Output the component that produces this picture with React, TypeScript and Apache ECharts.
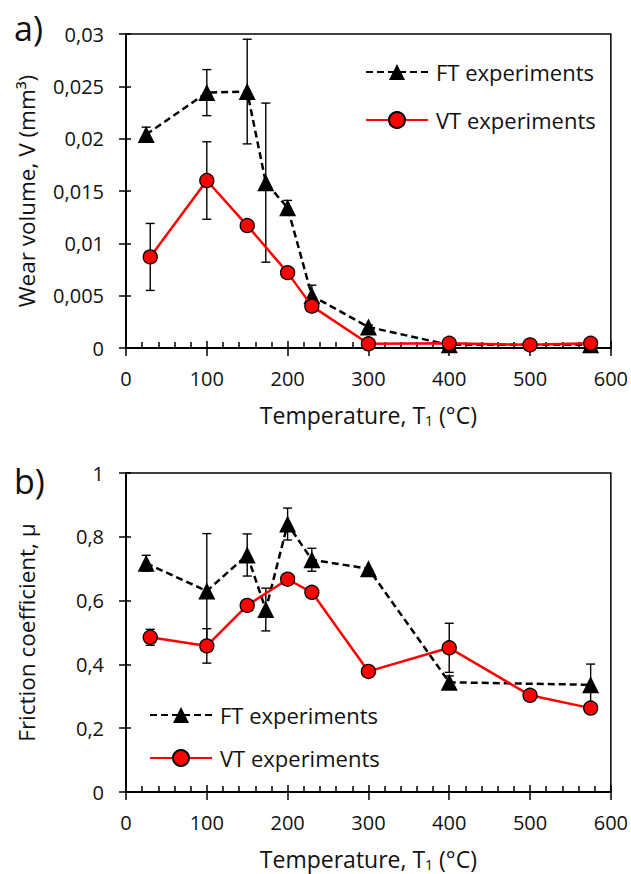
import React, { useEffect, useRef } from "react";
import * as echarts from "echarts";

// Wear volume (panel a)
const ftWearTemp = [25, 100, 150, 173, 200, 230, 300, 400, 575];
const ftWear = [0.0204, 0.0244, 0.0245, 0.0158, 0.0134, 0.005, 0.002, 0.0003, 0.0003];
const ftWearErr = [0.0007, 0.0022, 0.005, 0.0076, 0.0007, 0.001, 0.0002, 0, 0];

const vtWearTemp = [30, 100, 150, 200, 230, 300, 400, 500, 575];
const vtWear = [0.0087, 0.016, 0.0117, 0.0072, 0.004, 0.0004, 0.00045, 0.0003, 0.00045];
const vtWearErr = [0.0032, 0.0037, 0, 0, 0, 0, 0, 0, 0];

// Friction coefficient (panel b)
const ftFricTemp = [25, 100, 150, 173, 200, 230, 300, 400, 575];
const ftFric = [0.717, 0.63, 0.743, 0.572, 0.84, 0.728, 0.7, 0.344, 0.336];
const ftFricErr = [0.025, 0.18, 0.066, 0.067, 0.05, 0.036, 0, 0.02, 0.065];

const vtFricTemp = [30, 100, 150, 200, 230, 300, 400, 500, 575];
const vtFric = [0.485, 0.458, 0.585, 0.667, 0.626, 0.378, 0.452, 0.303, 0.263];
const vtFricErr = [0.025, 0.054, 0, 0, 0, 0, 0.077, 0, 0];

// Tick labels
const tempTicks = ["0", "100", "200", "300", "400", "500", "600"];
const wearTicks = ["0", "0,005", "0,01", "0,015", "0,02", "0,025", "0,03"];
const fricTicks = ["0", "0,2", "0,4", "0,6", "0,8", "1"];

const FT_NAME = "FT experiments";
const VT_NAME = "VT experiments";
const FONT = '"Open Sans", Lato, sans-serif';

const pairs = (xs: number[], ys: number[]) => xs.map((x, i) => [x, ys[i]]);
const errRows = (xs: number[], ys: number[], es: number[]) =>
  xs
    .map((x, i) => [x, ys[i] - es[i], ys[i] + es[i], es[i]])
    .filter((r) => r[3] > 0)
    .map((r) => [r[0], r[1], r[2]]);

const blackLine = { color: "#000", width: 1.5 };

function xAxes(gridIndex: number, name: string) {
  const common = { type: "value", gridIndex, min: 0, max: 600, interval: 100, position: "bottom" };
  return [
    {
      ...common,
      axisLine: { show: true, onZero: false, lineStyle: { color: "#000", width: 2 } },
      axisTick: { show: true, inside: true, length: 7, lineStyle: blackLine },
      minorTick: { show: true, splitNumber: 5, length: 6, lineStyle: blackLine },
      splitLine: { show: false },
      minorSplitLine: { show: false },
      axisLabel: {
        margin: 20,
        fontSize: 20,
        color: "#111",
        fontFamily: FONT,
        formatter: (v: number) => tempTicks[Math.round(v / 100)],
      },
      name,
      nameLocation: "middle",
      nameGap: 54,
      nameTextStyle: {
        fontSize: 23,
        color: "#111",
        fontFamily: FONT,
        rich: {
          sub: { fontSize: 14, fontFamily: FONT, color: "#111", verticalAlign: "bottom", padding: [11, 0, 0, 0] },
        },
      },
    },
    {
      ...common,
      axisLine: { show: false },
      axisTick: { show: true, inside: false, length: 8, lineStyle: blackLine },
      axisLabel: { show: false },
      splitLine: { show: false },
    },
  ];
}

function yAxes(gridIndex: number, max: number, interval: number, ticks: string[], name: string) {
  const common = { type: "value", gridIndex, min: 0, max, interval, position: "left" };
  return [
    {
      ...common,
      axisLine: { show: true, onZero: false, lineStyle: { color: "#000", width: 2 } },
      axisTick: { show: true, inside: false, length: 7, lineStyle: blackLine },
      splitLine: { show: false },
      axisLabel: {
        margin: 22,
        fontSize: 20,
        color: "#111",
        fontFamily: FONT,
        formatter: (v: number) => ticks[Math.round(v / interval)],
      },
      name,
      nameLocation: "middle",
      nameGap: 88,
      nameTextStyle: { fontSize: 22.5, color: "#111", fontFamily: FONT },
    },
    {
      ...common,
      axisLine: { show: false },
      axisTick: { show: true, inside: true, length: 5, lineStyle: blackLine },
      axisLabel: { show: false },
      splitLine: { show: false },
    },
  ];
}

function errorSeries(name: string, axisIndex: number, rows: number[][]) {
  return {
    type: "custom",
    name,
    xAxisIndex: axisIndex,
    yAxisIndex: axisIndex,
    z: 1,
    encode: { x: 0, y: [1, 2] },
    data: rows,
    renderItem: (_params: any, api: any) => {
      const x = api.value(0);
      const lo = api.coord([x, api.value(1)]);
      const hi = api.coord([x, api.value(2)]);
      const hw = 4.5;
      const style = { stroke: "#000", lineWidth: 1.4 };
      return {
        type: "group",
        children: [
          { type: "line", shape: { x1: hi[0], y1: hi[1], x2: lo[0], y2: lo[1] }, style },
          { type: "line", shape: { x1: hi[0] - hw, y1: hi[1], x2: hi[0] + hw, y2: hi[1] }, style },
          { type: "line", shape: { x1: lo[0] - hw, y1: lo[1], x2: lo[0] + hw, y2: lo[1] }, style },
        ],
      };
    },
  };
}

function ftSeries(axisIndex: number, data: number[][]) {
  return {
    type: "line",
    name: FT_NAME,
    xAxisIndex: axisIndex,
    yAxisIndex: axisIndex,
    z: 3,
    data,
    symbol: "triangle",
    symbolSize: 17,
    itemStyle: { color: "#000", borderColor: "#000", borderWidth: 0 },
    lineStyle: { color: "#000", width: 2.5, type: [7, 4] },
  };
}

function vtSeries(axisIndex: number, data: number[][]) {
  return {
    type: "line",
    name: VT_NAME,
    xAxisIndex: axisIndex,
    yAxisIndex: axisIndex,
    z: 4,
    data,
    symbol: "circle",
    symbolSize: 14,
    itemStyle: { color: "#ff0000", borderColor: "#000", borderWidth: 1.3 },
    lineStyle: { color: "#ff0000", width: 2.5, type: "solid" },
  };
}

const legendBase = {
  data: [FT_NAME, VT_NAME],
  orient: "vertical",
  itemWidth: 62,
  itemHeight: 20,
  padding: 0,
  selectedMode: false,
  textStyle: { fontSize: 22, color: "#111", fontFamily: FONT, padding: [0, 0, 0, 3] },
};

export default function App() {
  const ref = useRef<HTMLDivElement>(null);

  useEffect(() => {
    if (!ref.current) return;
    const chart = echarts.init(ref.current, null, { renderer: "svg" });
    const tempName = "Temperature, T{sub|1} (°C)";
    chart.setOption({
      animation: false,
      backgroundColor: "#fff",
      grid: [
        { left: 126, top: 34, width: 485, height: 314, show: true, borderColor: "#000", borderWidth: 1.5 },
        { left: 126, top: 473, width: 485, height: 319, show: true, borderColor: "#000", borderWidth: 1.5 },
      ],
      xAxis: [...xAxes(0, tempName), ...xAxes(1, tempName)],
      yAxis: [
        ...yAxes(0, 0.03, 0.005, wearTicks, "Wear volume, V (mm³)"),
        ...yAxes(1, 1, 0.2, fricTicks, "Friction coefficient, μ"),
      ],
      legend: [
        { ...legendBase, left: 365, top: 61, itemGap: 26 },
        { ...legendBase, left: 149, top: 704, itemGap: 21 },
      ],
      graphic: [
        { type: "text", x: 14, y: 28, style: { text: "a)", fontSize: 34, fontFamily: FONT, fill: "#111", verticalAlign: "middle" } },
        { type: "text", x: 14, y: 481, style: { text: "b)", fontSize: 34, fontFamily: FONT, fill: "#111", verticalAlign: "middle" } },
      ],
      series: [
        errorSeries("ftWearErr", 0, errRows(ftWearTemp, ftWear, ftWearErr)),
        errorSeries("vtWearErr", 0, errRows(vtWearTemp, vtWear, vtWearErr)),
        ftSeries(0, pairs(ftWearTemp, ftWear)),
        vtSeries(0, pairs(vtWearTemp, vtWear)),
        errorSeries("ftFricErr", 2, errRows(ftFricTemp, ftFric, ftFricErr)),
        errorSeries("vtFricErr", 2, errRows(vtFricTemp, vtFric, vtFricErr)),
        ftSeries(2, pairs(ftFricTemp, ftFric)),
        vtSeries(2, pairs(vtFricTemp, vtFric)),
      ],
    });
    return () => chart.dispose();
  }, []);

  return (
    <div
      ref={ref}
      style={{ position: "absolute", left: 0, top: 0, width: 631, height: 874, background: "#fff" }}
    />
  );
}
